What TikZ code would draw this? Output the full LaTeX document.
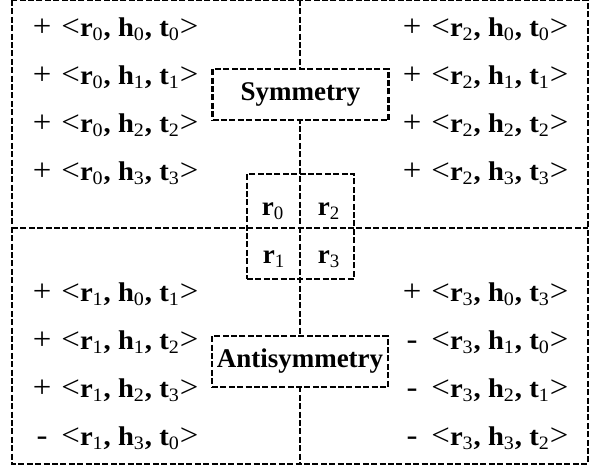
\documentclass[tikz,border=0pt]{standalone}
\usepackage{fontspec}
\setmainfont{Liberation Serif}
\newfontfamily\tripfam[FakeStretch=1.06]{Liberation Serif}
\usetikzlibrary{positioning}

\newcommand{\trfont}{\fontsize{13.5}{16}\selectfont\bfseries}
\newcommand{\tripfont}{\tripfam\fontsize{13.5}{16}\selectfont\bfseries}
\newcommand{\bigsym}[1]{{\mdseries\fontsize{15.5}{16}\selectfont #1}}
\newcommand{\idx}[1]{\textsubscript{\mdseries #1}}
\newcommand{\trip}[4]{\makebox[0.64em][c]{\bigsym{#1}}\hspace{0.4em}\bigsym{<}r\idx{#2}, h\idx{#3}, t\idx{#4}\bigsym{>}}

\begin{document}
\begin{tikzpicture}[
  x=0.5pt, y=-0.5pt,
  node distance=10.2pt,
  dashframe/.style={draw, line width=1.1pt, dash pattern=on 3pt off 1.2pt},
  triple/.style={font=\tripfont, inner sep=0pt, text height=10pt, text depth=3.5pt},
  tagbox/.style={dashframe, fill=white, font=\trfont, inner sep=0pt,
                 minimum width=88pt, minimum height=25.5pt},
  rel/.style={font=\trfont, inner sep=0pt, anchor=base}
]
  \useasboundingbox (0,0) rectangle (595,468);

  % Frame and cross
  \coordinate (nw) at (12,0);
  \coordinate (se) at (588,464);
  \coordinate (ml) at (12,228);
  \coordinate (mr) at (588,228);
  \coordinate (mt) at (300,0);
  \coordinate (mb) at (300,464);
  \draw[dashframe] (nw) rectangle (se);
  \draw[dashframe] (ml) -- (mr);
  \draw[dashframe] (mt) -- (mb);

  % Top left
  \node[triple, anchor=base west] (tl0) at (33,36) {\trip{+}{0}{0}{0}};
  \node[triple, below=of tl0.south west, anchor=north west] (tl1) {\trip{+}{0}{1}{1}};
  \node[triple, below=of tl1.south west, anchor=north west] (tl2) {\trip{+}{0}{2}{2}};
  \node[triple, below=of tl2.south west, anchor=north west] (tl3) {\trip{+}{0}{3}{3}};

  % Top right
  \node[triple, anchor=base west] (tr0) at (403,36) {\trip{+}{2}{0}{0}};
  \node[triple, below=of tr0.south west, anchor=north west] (tr1) {\trip{+}{2}{1}{1}};
  \node[triple, below=of tr1.south west, anchor=north west] (tr2) {\trip{+}{2}{2}{2}};
  \node[triple, below=of tr2.south west, anchor=north west] (tr3) {\trip{+}{2}{3}{3}};

  % Bottom left
  \node[triple, anchor=base west] (bl0) at (33,301) {\trip{+}{1}{0}{1}};
  \node[triple, below=of bl0.south west, anchor=north west] (bl1) {\trip{+}{1}{1}{2}};
  \node[triple, below=of bl1.south west, anchor=north west] (bl2) {\trip{+}{1}{2}{3}};
  \node[triple, below=of bl2.south west, anchor=north west] (bl3) {\trip{-}{1}{3}{0}};

  % Bottom right
  \node[triple, anchor=base west] (br0) at (403,301) {\trip{+}{3}{0}{3}};
  \node[triple, below=of br0.south west, anchor=north west] (br1) {\trip{-}{3}{1}{0}};
  \node[triple, below=of br1.south west, anchor=north west] (br2) {\trip{-}{3}{2}{1}};
  \node[triple, below=of br2.south west, anchor=north west] (br3) {\trip{-}{3}{3}{2}};

  % Relations
  \node[dashframe, minimum width=53.5pt, minimum height=52.5pt] (rbox) at (300.5,226.5) {};
  \node[rel] (r0) at (273,215) {r\idx{0}};
  \node[rel] (r2) at (329,215) {r\idx{2}};
  \node[rel] (r1) at (274,263) {r\idx{1}};
  \node[rel] (r3) at (329,263) {r\idx{3}};

  % Labels
  \node[tagbox] (sym) at (300.5,94.5) {Symmetry};
  \node[tagbox] (anti) at (300,361.5) {Antisymmetry};
\end{tikzpicture}
\end{document}
